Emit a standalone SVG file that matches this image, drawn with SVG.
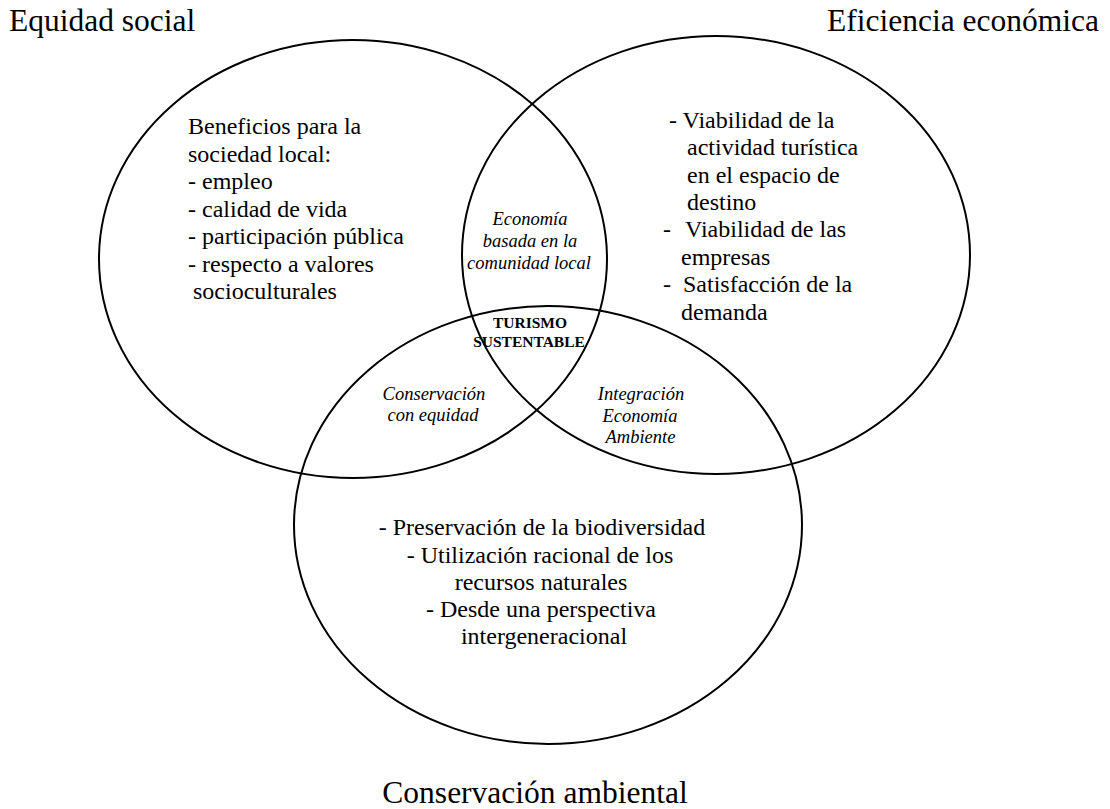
<svg xmlns="http://www.w3.org/2000/svg" width="1110" height="809" viewBox="0 0 1110 809">
<style>
.ring{fill:none;stroke:#000;stroke-width:2}
.lbl{font-family:"Liberation Serif","Times New Roman","DejaVu Serif",serif;font-size:31.5px;fill:#000}
.body{font-family:"Liberation Serif","Times New Roman","DejaVu Serif",serif;font-size:24px;fill:#000}
.mid{text-anchor:middle}
.it{font-family:"Liberation Serif","Times New Roman","DejaVu Serif",serif;font-size:18.5px;font-style:italic;fill:#000;text-anchor:middle}
.bold{font-family:"Liberation Serif","Times New Roman","DejaVu Serif",serif;font-size:15.5px;font-weight:bold;fill:#000;text-anchor:middle}
</style>
<rect width="1110" height="809" fill="#fff"/>
<g id="equidad">
<ellipse class="ring" cx="353" cy="259" rx="254" ry="219"/>
<text class="lbl" x="9" y="31">Equidad social</text>
<text class="body" y="134">
<tspan x="188">Beneficios para la</tspan>
<tspan x="188" y="161.5">sociedad local:</tspan>
<tspan x="188" y="189">- empleo</tspan>
<tspan x="188" y="216.5">- calidad de vida</tspan>
<tspan x="188" y="244">- participación pública</tspan>
<tspan x="188" y="271.5">- respecto a valores</tspan>
<tspan x="193" y="299">socioculturales</tspan>
</text>
</g>
<g id="eficiencia">
<ellipse class="ring" cx="716" cy="255" rx="254" ry="219"/>
<text class="lbl" x="1099" y="31" text-anchor="end">Eficiencia económica</text>
<text class="body" y="128">
<tspan x="669">- Viabilidad de la</tspan>
<tspan x="687" y="155">actividad turística</tspan>
<tspan x="687" y="182.5">en el espacio de</tspan>
<tspan x="687" y="210">destino</tspan>
<tspan x="663" y="237">-</tspan>
<tspan x="685" y="237">Viabilidad de las</tspan>
<tspan x="681" y="264.5">empresas</tspan>
<tspan x="663" y="292">-</tspan>
<tspan x="683" y="292">Satisfacción de la</tspan>
<tspan x="681" y="319.5">demanda</tspan>
</text>
</g>
<g id="conservacion">
<ellipse class="ring" cx="548" cy="525" rx="254" ry="219"/>
<text class="lbl mid" x="535" y="803">Conservación ambiental</text>
<text class="body mid">
<tspan x="545" y="535">- Preservación de la biodiversidad</tspan>
<tspan x="543" y="562.5">- Utilización racional de los</tspan>
<tspan x="544" y="590">recursos naturales</tspan>
<tspan x="544" y="617">- Desde una perspectiva</tspan>
<tspan x="544" y="644">intergeneracional</tspan>
</text>
</g>
<g id="economia-comunidad">
<text class="it"><tspan x="530" y="225">Economía</tspan><tspan x="530" y="247">basada en la</tspan><tspan x="529" y="268.5">comunidad local</tspan></text>
</g>
<g id="conservacion-equidad">
<text class="it"><tspan x="434" y="400">Conservación</tspan><tspan x="433" y="421">con equidad</tspan></text>
</g>
<g id="integracion">
<text class="it"><tspan x="641" y="400">Integración</tspan><tspan x="640" y="421.5">Economía</tspan><tspan x="640.5" y="443">Ambiente</tspan></text>
</g>
<g id="turismo">
<text class="bold"><tspan x="530" y="328">TURISMO</tspan><tspan x="529" y="346.5">SUSTENTABLE</tspan></text>
</g>
<g id="connectors"/>
</svg>
